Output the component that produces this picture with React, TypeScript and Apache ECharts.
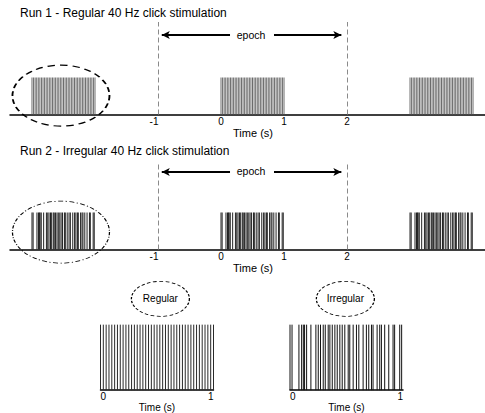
import React, { useEffect, useRef } from 'react';
import * as echarts from 'echarts';

const FONT = '"Liberation Sans", Arial, sans-serif';

// ---- data ----
const runTitles = ['Run 1 - Regular 40 Hz click stimulation', 'Run 2 - Irregular 40 Hz click stimulation'];
const burstOnsets = [-3, 0, 3];
const regularClicks = [
  0, 0.025, 0.05, 0.075, 0.1, 0.125, 0.15, 0.175, 0.2, 0.225,
  0.25, 0.275, 0.3, 0.325, 0.35, 0.375, 0.4, 0.425, 0.45, 0.475,
  0.5, 0.525, 0.55, 0.575, 0.6, 0.625, 0.65, 0.675, 0.7, 0.725,
  0.75, 0.775, 0.8, 0.825, 0.85, 0.875, 0.9, 0.925, 0.95, 0.975, 1,
];
const irregularClicks = [
  0, 0.018, 0.079, 0.103, 0.118, 0.129, 0.147, 0.185, 0.229, 0.25,
  0.27, 0.294, 0.312, 0.338, 0.353, 0.374, 0.397, 0.418, 0.441, 0.462,
  0.485, 0.515, 0.529, 0.559, 0.588, 0.609, 0.647, 0.676, 0.697, 0.721,
  0.735, 0.771, 0.794, 0.809, 0.838, 0.874, 0.912, 0.926, 0.971, 0.988,
];
const clickHeight = 1;
const epochBounds = [-1, 2];
const epochLabel = 'epoch';
const topTickValues = [-1, 0, 1, 2];
const axisName = 'Time (s)';
const zoomLabels = ['Regular', 'Irregular'];

const toPoints = (clicks: number[], onsets: number[]) =>
  onsets.flatMap((o) => clicks.map((c) => [o + c, clickHeight]));

const renderClick = (color: string, width: number) => (params: any, api: any) => {
  const t = api.value(0);
  const h = api.value(1);
  const a = api.coord([t, 0]);
  const b = api.coord([t, h]);
  return {
    type: 'line',
    shape: { x1: a[0], y1: a[1], x2: b[0], y2: b[1] },
    style: { stroke: color, lineWidth: width },
  };
};

const dashedEpochLines = epochBounds.map((v) => ({
  xAxis: v,
  lineStyle: { color: '#8a8a8a', width: 1, type: [5, 3] },
}));

const epochArrows = (y: number) => [
  [
    { coord: [epochBounds[0] + 0.06, y], symbol: 'arrow', symbolSize: [6, 8], lineStyle: { color: '#000', width: 1.8, type: 'solid' } },
    { coord: [0.143, y], symbol: 'none' },
  ],
  [
    { coord: [0.841, y], symbol: 'none', lineStyle: { color: '#000', width: 1.8, type: 'solid' } },
    { coord: [epochBounds[1] - 0.09, y], symbol: 'arrow', symbolSize: [6, 8] },
  ],
];

const topAxis = (gridIndex: number, nameGap: number) => ({
  type: 'value',
  gridIndex,
  min: -3.349,
  max: 4.19,
  axisLine: { show: true, lineStyle: { color: '#000', width: 1.5 } },
  axisTick: { show: false },
  splitLine: { show: false },
  axisLabel: {
    customValues: topTickValues,
    margin: 2,
    color: '#000',
    fontSize: 10,
    fontFamily: FONT,
    formatter: (v: number) => (v < 0 ? `{neg|${v}}` : `${v}`),
    rich: { neg: { padding: [0, 8, 0, 0], fontSize: 10, fontFamily: FONT, color: '#000' } },
  },
  name: axisName,
  nameLocation: 'middle',
  nameGap,
  nameTextStyle: { color: '#000', fontSize: 11, fontFamily: FONT, padding: [0, 0, 0, 11] },
});

const bottomAxis = (gridIndex: number) => ({
  type: 'value',
  gridIndex,
  min: 0,
  max: 1,
  interval: 1,
  axisLine: { show: true, lineStyle: { color: '#000', width: 1.5 } },
  axisTick: { show: false },
  splitLine: { show: false },
  axisLabel: {
    margin: 1,
    color: '#000',
    fontSize: 10,
    fontFamily: FONT,
    alignMinLabel: 'left',
    alignMaxLabel: 'right',
  },
  name: axisName,
  nameLocation: 'middle',
  nameGap: 10,
  nameTextStyle: { color: '#000', fontSize: 10, fontFamily: FONT },
});

const hiddenY = (gridIndex: number, max: number) => ({
  type: 'value',
  gridIndex,
  min: 0,
  max,
  show: false,
  splitLine: { show: false },
});

const labelPoint = (x: number, y: number) => ({
  coord: [x, y],
  symbol: 'rect',
  symbolSize: 1,
  itemStyle: { color: 'transparent' },
  label: { show: true, position: 'inside', formatter: epochLabel, color: '#000', fontSize: 10.5, fontFamily: FONT },
});

const App: React.FC = () => {
  const ref = useRef<HTMLDivElement>(null);

  useEffect(() => {
    if (!ref.current) return;
    const chart = echarts.init(ref.current, undefined, { renderer: 'svg' });

    const option: any = {
      animation: false,
      backgroundColor: '#fff',
      title: runTitles.map((t, i) => ({
        text: t,
        left: 20,
        top: i === 0 ? 7 : 145,
        padding: 0,
        textStyle: { fontSize: 12, fontWeight: 'normal', color: '#000', fontFamily: FONT },
      })),
      grid: [
        { left: 10, top: 22, width: 475, height: 92.5 },
        { left: 10, top: 162, width: 475, height: 87.5 },
        { left: 100.5, top: 280, width: 113, height: 111 },
        { left: 290, top: 280, width: 113, height: 111 },
      ],
      xAxis: [topAxis(0, 10), topAxis(1, 12), bottomAxis(2), bottomAxis(3)],
      yAxis: [hiddenY(0, 2.5), hiddenY(1, 2.365), hiddenY(2, 1.682), hiddenY(3, 1.682)],
      series: [
        {
          type: 'custom',
          xAxisIndex: 0,
          yAxisIndex: 0,
          encode: { x: 0, y: 1 },
          renderItem: renderClick('#5a5a5a', 0.9),
          data: toPoints(regularClicks, burstOnsets),
          silent: true,
          markLine: {
            silent: true,
            symbol: ['none', 'none'],
            label: { show: false },
            data: [...dashedEpochLines, ...epochArrows(2.149)],
          },
          markPoint: {
            silent: true,
            data: [
              labelPoint(0.476, 2.149),
              {
                coord: [-2.54, 0.51],
                symbol: 'circle',
                symbolSize: [97, 61],
                itemStyle: { color: 'transparent', borderColor: '#000', borderWidth: 1.5, borderType: [6, 4] },
                label: { show: false },
              },
            ],
          },
        },
        {
          type: 'custom',
          xAxisIndex: 1,
          yAxisIndex: 1,
          encode: { x: 0, y: 1 },
          renderItem: renderClick('#222', 1),
          data: toPoints(irregularClicks, burstOnsets),
          silent: true,
          markLine: {
            silent: true,
            symbol: ['none', 'none'],
            label: { show: false },
            data: [...dashedEpochLines, ...epochArrows(2.095)],
          },
          markPoint: {
            silent: true,
            data: [
              labelPoint(0.476, 2.13),
              {
                coord: [-2.54, 0.47],
                symbol: 'circle',
                symbolSize: [97, 62],
                itemStyle: { color: 'transparent', borderColor: '#000', borderWidth: 1, borderType: [4, 2, 1, 2] },
                label: { show: false },
              },
            ],
          },
        },
        ...[regularClicks, irregularClicks].map((clicks, i) => ({
          type: 'custom',
          xAxisIndex: 2 + i,
          yAxisIndex: 2 + i,
          encode: { x: 0, y: 1 },
          renderItem: renderClick(i === 0 ? '#2a2a2a' : '#111', 1),
          data: toPoints(clicks, [0]),
          silent: true,
          markPoint: {
            silent: true,
            data: [
              {
                coord: [i === 0 ? 0.53 : 0.49, 1.394],
                symbol: 'circle',
                symbolSize: [58, 35],
                itemStyle: { color: 'transparent', borderColor: '#000', borderWidth: 1, borderType: [3, 2] },
                label: { show: true, position: 'inside', formatter: zoomLabels[i], color: '#000', fontSize: 10, fontFamily: FONT },
              },
            ],
          },
        })),
      ],
    };

    chart.setOption(option);
    return () => chart.dispose();
  }, []);

  return <div ref={ref} style={{ width: 485, height: 413, position: 'absolute', left: 0, top: 0 }} />;
};

export default App;
